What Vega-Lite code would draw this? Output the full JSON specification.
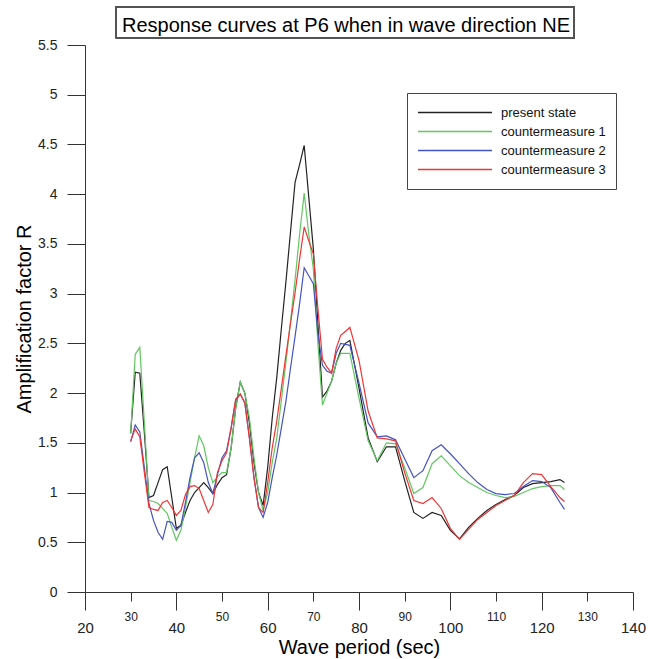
{
  "$schema": "https://vega.github.io/schema/vega-lite/v6.json",
  "width": 548,
  "height": 547,
  "autosize": "none",
  "padding": {"left": 85, "top": 45, "right": 23, "bottom": 67},
  "background": "white",
  "title": {
    "text": "Response curves at P6 when in wave direction NE",
    "frame": "group",
    "anchor": "middle",
    "baseline": "alphabetic",
    "offset": -46,
    "dx": -13,
    "font": "Liberation Sans",
    "fontSize": 20,
    "fontWeight": "normal",
    "color": "#000"
  },
  "config": {
    "view": {"stroke": null},
    "axis": {
      "grid": false,
      "domainColor": "#333",
      "tickColor": "#333",
      "labelColor": "#222",
      "titleColor": "#000",
      "labelFont": "Liberation Sans",
      "titleFont": "Liberation Sans",
      "titleFontWeight": "normal"
    }
  },
  "data": {
    "values": [
      {"T": 30, "present state": 1.60, "countermeasure 1": 1.59, "countermeasure 2": 1.51, "countermeasure 3": 1.52},
      {"T": 31, "present state": 2.21, "countermeasure 1": 2.39, "countermeasure 2": 1.68, "countermeasure 3": 1.64},
      {"T": 32, "present state": 2.20, "countermeasure 1": 2.46, "countermeasure 2": 1.61, "countermeasure 3": 1.56},
      {"T": 33, "present state": 1.60, "countermeasure 1": 1.70, "countermeasure 2": 1.25, "countermeasure 3": 1.20},
      {"T": 34, "present state": 0.95, "countermeasure 1": 0.92, "countermeasure 2": 0.89, "countermeasure 3": 0.85},
      {"T": 35, "present state": 0.97, "countermeasure 1": 0.91, "countermeasure 2": 0.72, "countermeasure 3": 0.83},
      {"T": 36, "present state": 1.10, "countermeasure 1": 0.89, "countermeasure 2": 0.60, "countermeasure 3": 0.82},
      {"T": 37, "present state": 1.23, "countermeasure 1": 0.84, "countermeasure 2": 0.53, "countermeasure 3": 0.90},
      {"T": 38, "present state": 1.26, "countermeasure 1": 0.79, "countermeasure 2": 0.71, "countermeasure 3": 0.92},
      {"T": 39, "present state": 0.95, "countermeasure 1": 0.65, "countermeasure 2": 0.70, "countermeasure 3": 0.85},
      {"T": 40, "present state": 0.64, "countermeasure 1": 0.52, "countermeasure 2": 0.62, "countermeasure 3": 0.77},
      {"T": 41, "present state": 0.67, "countermeasure 1": 0.62, "countermeasure 2": 0.67, "countermeasure 3": 0.82},
      {"T": 42, "present state": 0.80, "countermeasure 1": 0.85, "countermeasure 2": 0.90, "countermeasure 3": 0.98},
      {"T": 43, "present state": 0.92, "countermeasure 1": 1.10, "countermeasure 2": 1.15, "countermeasure 3": 1.06},
      {"T": 44, "present state": 1.00, "countermeasure 1": 1.35, "countermeasure 2": 1.35, "countermeasure 3": 1.07},
      {"T": 45, "present state": 1.05, "countermeasure 1": 1.57, "countermeasure 2": 1.40, "countermeasure 3": 1.04},
      {"T": 46, "present state": 1.10, "countermeasure 1": 1.47, "countermeasure 2": 1.30, "countermeasure 3": 0.92},
      {"T": 47, "present state": 1.05, "countermeasure 1": 1.25, "countermeasure 2": 1.10, "countermeasure 3": 0.80},
      {"T": 48, "present state": 0.99, "countermeasure 1": 1.10, "countermeasure 2": 0.99, "countermeasure 3": 0.88},
      {"T": 49, "present state": 1.08, "countermeasure 1": 1.16, "countermeasure 2": 1.18, "countermeasure 3": 1.20},
      {"T": 50, "present state": 1.15, "countermeasure 1": 1.20, "countermeasure 2": 1.35, "countermeasure 3": 1.32},
      {"T": 51, "present state": 1.18, "countermeasure 1": 1.20, "countermeasure 2": 1.42, "countermeasure 3": 1.40},
      {"T": 52, "present state": 1.45, "countermeasure 1": 1.45, "countermeasure 2": 1.65, "countermeasure 3": 1.65},
      {"T": 53, "present state": 1.85, "countermeasure 1": 1.85, "countermeasure 2": 1.93, "countermeasure 3": 1.94},
      {"T": 54, "present state": 2.11, "countermeasure 1": 2.11, "countermeasure 2": 1.99, "countermeasure 3": 1.99},
      {"T": 55, "present state": 2.00, "countermeasure 1": 2.00, "countermeasure 2": 1.90, "countermeasure 3": 1.90},
      {"T": 56, "present state": 1.70, "countermeasure 1": 1.75, "countermeasure 2": 1.55, "countermeasure 3": 1.55},
      {"T": 57, "present state": 1.30, "countermeasure 1": 1.35, "countermeasure 2": 1.15, "countermeasure 3": 1.15},
      {"T": 58, "present state": 1.00, "countermeasure 1": 1.00, "countermeasure 2": 0.85, "countermeasure 3": 0.85},
      {"T": 59, "present state": 0.87, "countermeasure 1": 0.82, "countermeasure 2": 0.75, "countermeasure 3": 0.80},
      {"T": 60, "present state": 1.25, "countermeasure 1": 1.00, "countermeasure 2": 0.90, "countermeasure 3": 1.10},
      {"T": 61, "present state": 1.75, "countermeasure 1": 1.30, "countermeasure 2": 1.15, "countermeasure 3": 1.45},
      {"T": 62, "present state": 2.16, "countermeasure 1": 1.55, "countermeasure 2": 1.38, "countermeasure 3": 1.72},
      {"T": 63, "present state": 2.65, "countermeasure 1": 1.93, "countermeasure 2": 1.65, "countermeasure 3": 2.05},
      {"T": 64, "present state": 3.12, "countermeasure 1": 2.31, "countermeasure 2": 1.92, "countermeasure 3": 2.38},
      {"T": 65, "present state": 3.62, "countermeasure 1": 2.72, "countermeasure 2": 2.25, "countermeasure 3": 2.70},
      {"T": 66, "present state": 4.12, "countermeasure 1": 3.14, "countermeasure 2": 2.57, "countermeasure 3": 3.01},
      {"T": 67, "present state": 4.30, "countermeasure 1": 3.60, "countermeasure 2": 2.90, "countermeasure 3": 3.35},
      {"T": 68, "present state": 4.49, "countermeasure 1": 4.01, "countermeasure 2": 3.26, "countermeasure 3": 3.67},
      {"T": 69, "present state": 3.97, "countermeasure 1": 3.60, "countermeasure 2": 3.18, "countermeasure 3": 3.53},
      {"T": 70, "present state": 3.45, "countermeasure 1": 3.25, "countermeasure 2": 3.10, "countermeasure 3": 3.40},
      {"T": 71, "present state": 2.70, "countermeasure 1": 2.50, "countermeasure 2": 2.60, "countermeasure 3": 2.85},
      {"T": 72, "present state": 1.96, "countermeasure 1": 1.88, "countermeasure 2": 2.28, "countermeasure 3": 2.34},
      {"T": 73, "present state": 2.02, "countermeasure 1": 2.00, "countermeasure 2": 2.22, "countermeasure 3": 2.26},
      {"T": 74, "present state": 2.12, "countermeasure 1": 2.12, "countermeasure 2": 2.20, "countermeasure 3": 2.20},
      {"T": 75, "present state": 2.30, "countermeasure 1": 2.30, "countermeasure 2": 2.40, "countermeasure 3": 2.45},
      {"T": 76, "present state": 2.43, "countermeasure 1": 2.40, "countermeasure 2": 2.50, "countermeasure 3": 2.58},
      {"T": 77, "present state": 2.50, "countermeasure 1": 2.40, "countermeasure 2": 2.49, "countermeasure 3": 2.62},
      {"T": 78, "present state": 2.53, "countermeasure 1": 2.40, "countermeasure 2": 2.48, "countermeasure 3": 2.66},
      {"T": 80, "present state": 2.05, "countermeasure 1": 1.95, "countermeasure 2": 2.10, "countermeasure 3": 2.33},
      {"T": 82, "present state": 1.55, "countermeasure 1": 1.52, "countermeasure 2": 1.70, "countermeasure 3": 1.82},
      {"T": 84, "present state": 1.31, "countermeasure 1": 1.32, "countermeasure 2": 1.56, "countermeasure 3": 1.55},
      {"T": 86, "present state": 1.46, "countermeasure 1": 1.50, "countermeasure 2": 1.57, "countermeasure 3": 1.54},
      {"T": 88, "present state": 1.46, "countermeasure 1": 1.49, "countermeasure 2": 1.53, "countermeasure 3": 1.52},
      {"T": 90, "present state": 1.12, "countermeasure 1": 1.25, "countermeasure 2": 1.34, "countermeasure 3": 1.20},
      {"T": 92, "present state": 0.80, "countermeasure 1": 0.99, "countermeasure 2": 1.15, "countermeasure 3": 0.92},
      {"T": 94, "present state": 0.74, "countermeasure 1": 1.05, "countermeasure 2": 1.22, "countermeasure 3": 0.89},
      {"T": 96, "present state": 0.80, "countermeasure 1": 1.29, "countermeasure 2": 1.42, "countermeasure 3": 0.95},
      {"T": 98, "present state": 0.77, "countermeasure 1": 1.37, "countermeasure 2": 1.48, "countermeasure 3": 0.84},
      {"T": 100, "present state": 0.62, "countermeasure 1": 1.27, "countermeasure 2": 1.39, "countermeasure 3": 0.64},
      {"T": 102, "present state": 0.535, "countermeasure 1": 1.17, "countermeasure 2": 1.29, "countermeasure 3": 0.53},
      {"T": 104, "present state": 0.65, "countermeasure 1": 1.10, "countermeasure 2": 1.19, "countermeasure 3": 0.63},
      {"T": 106, "present state": 0.74, "countermeasure 1": 1.05, "countermeasure 2": 1.10, "countermeasure 3": 0.73},
      {"T": 108, "present state": 0.82, "countermeasure 1": 1.00, "countermeasure 2": 1.03, "countermeasure 3": 0.80},
      {"T": 110, "present state": 0.88, "countermeasure 1": 0.97, "countermeasure 2": 0.99, "countermeasure 3": 0.87},
      {"T": 112, "present state": 0.93, "countermeasure 1": 0.95, "countermeasure 2": 0.98, "countermeasure 3": 0.92},
      {"T": 114, "present state": 0.97, "countermeasure 1": 0.96, "countermeasure 2": 0.99, "countermeasure 3": 0.97},
      {"T": 116, "present state": 1.05, "countermeasure 1": 1.00, "countermeasure 2": 1.06, "countermeasure 3": 1.10},
      {"T": 118, "present state": 1.09, "countermeasure 1": 1.04, "countermeasure 2": 1.12, "countermeasure 3": 1.19},
      {"T": 120, "present state": 1.10, "countermeasure 1": 1.06, "countermeasure 2": 1.11, "countermeasure 3": 1.18},
      {"T": 122, "present state": 1.11, "countermeasure 1": 1.07, "countermeasure 2": 1.05, "countermeasure 3": 1.06},
      {"T": 124, "present state": 1.13, "countermeasure 1": 1.07, "countermeasure 2": 0.90, "countermeasure 3": 0.95},
      {"T": 125, "present state": 1.10, "countermeasure 1": 1.03, "countermeasure 2": 0.83, "countermeasure 3": 0.91}
    ]
  },
  "layer": [
    {
      "transform": [
        {"fold": ["present state", "countermeasure 1", "countermeasure 2", "countermeasure 3"], "as": ["series", "R"]}
      ],
      "mark": {"type": "line", "strokeWidth": 1.2},
      "encoding": {
        "x": {
          "field": "T",
          "type": "quantitative",
          "scale": {"domain": [20, 140], "nice": false, "zero": false},
          "axis": {
            "title": "Wave period (sec)",
            "titleFontSize": 20,
            "titlePadding": 2,
            "values": [20, 30, 40, 50, 60, 70, 80, 90, 100, 110, 120, 130, 140],
            "tickSize": {"condition": {"test": "datum.value % 20 === 0", "value": 18}, "value": 9},
            "labelFontSize": {"condition": {"test": "datum.value % 20 === 0", "value": 15}, "value": 12},
            "labelPadding": 10,
            "labelAngle": 0,
            "labelFlush": false,
            "labelOverlap": false
          }
        },
        "y": {
          "field": "R",
          "type": "quantitative",
          "scale": {"domain": [0, 5.5], "nice": false},
          "axis": {
            "title": "Amplification factor R",
            "titleFontSize": 20,
            "titlePadding": 3,
            "values": [0, 0.5, 1, 1.5, 2, 2.5, 3, 3.5, 4, 4.5, 5, 5.5],
            "format": "~g",
            "tickSize": 18,
            "labelFontSize": 14,
            "labelPadding": 10,
            "labelOverlap": false
          }
        },
        "color": {
          "field": "series",
          "type": "nominal",
          "scale": {
            "domain": ["present state", "countermeasure 1", "countermeasure 2", "countermeasure 3"],
            "range": ["#222222", "#62c762", "#4453c2", "#f03535"]
          },
          "legend": {
            "title": null,
            "orient": "none",
            "legendX": 322,
            "legendY": 48,
            "padding": 10,
            "strokeColor": "#444",
            "fillColor": "white",
            "symbolType": "stroke",
            "symbolSize": 5476,
            "symbolStrokeWidth": 1.5,
            "symbolOpacity": 1,
            "clipHeight": 19,
            "rowPadding": 0,
            "labelOffset": 8,
            "labelFont": "Liberation Sans",
            "labelFontSize": 13,
            "labelColor": "#111",
            "labelLimit": 300
          }
        }
      }
    },
    {
      "mark": {"type": "rect", "fill": null, "stroke": "#555", "strokeWidth": 1, "clip": false},
      "encoding": {
        "x": {"datum": 26.8, "type": "quantitative"},
        "x2": {"datum": 127.1},
        "y": {"datum": 5.57, "type": "quantitative"},
        "y2": {"datum": 5.885}
      }
    }
  ]
}
